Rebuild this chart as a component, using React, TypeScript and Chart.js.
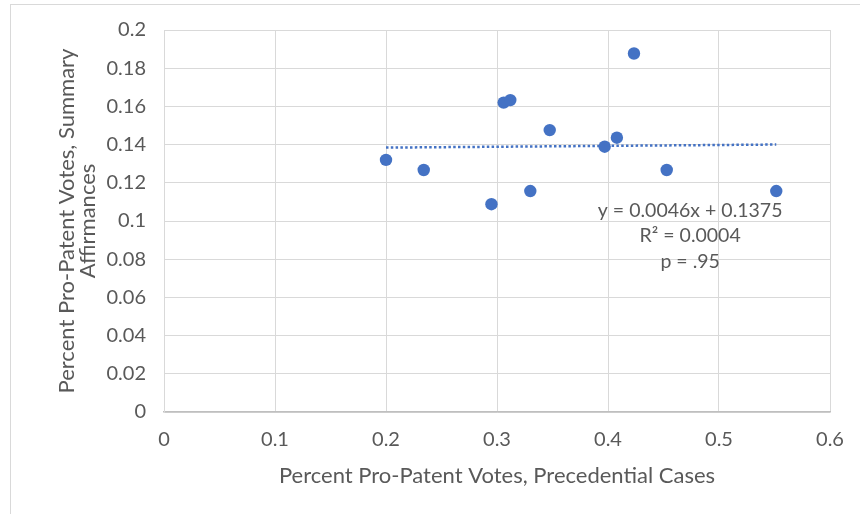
import React, { useEffect, useRef } from "react";
import { Chart, registerables } from "chart.js";

Chart.register(...registerables);

// ---- data ----
const precedentialShare = [0.2, 0.234, 0.295, 0.306, 0.312, 0.33, 0.3475, 0.397, 0.408, 0.4234, 0.4529, 0.5516];
const summaryShare = [0.132, 0.1267, 0.1088, 0.162, 0.1633, 0.1157, 0.1476, 0.1389, 0.1436, 0.1877, 0.1267, 0.1157];
const trendSlope = 0.0046;
const trendIntercept = 0.1375;
const trendLabelLines = ["y = 0.0046x + 0.1375", "R\u00b2 = 0.0004", "p = .95"];
const xAxisTitle = "Percent Pro-Patent Votes, Precedential Cases";
const yAxisTitleLines = ["Percent Pro-Patent Votes, Summary", "Affirmances"];
const xMin = 0, xMax = 0.6, xStep = 0.1;
const yMin = 0, yMax = 0.2, yStep = 0.02;

const FONT = "Lato, 'Liberation Sans', Arial, sans-serif";
const TEXT = "#595959";
const BLUE = "#4472C4";
const GRID = "#d9d9d9";

const trendLabelPlugin = {
  id: "trendLabel",
  afterDatasetsDraw(chart: any) {
    const { ctx, scales } = chart;
    const xs = scales.x, ys = scales.y;
    const cx = xs.getPixelForValue(0.474);
    const cy = ys.getPixelForValue(0.1055);
    ctx.save();
    ctx.font = `19.5px ${FONT}`;
    ctx.fillStyle = TEXT;
    ctx.textAlign = "center";
    ctx.textBaseline = "middle";
    trendLabelLines.forEach((line, i) => {
      ctx.fillText(line, cx, cy + i * 25.5);
    });
    ctx.restore();
  },
};

export default function App() {
  const ref = useRef<HTMLCanvasElement | null>(null);

  useEffect(() => {
    if (!ref.current) return;
    const points = precedentialShare.map((x, i) => ({ x, y: summaryShare[i] }));
    const lo = Math.min(...precedentialShare);
    const hi = Math.max(...precedentialShare);
    const trend = [lo, hi].map((x) => ({ x, y: trendSlope * x + trendIntercept }));

    const chart = new Chart(ref.current, {
      type: "scatter",
      data: {
        datasets: [
          {
            label: "Circuits",
            data: points,
            backgroundColor: BLUE,
            borderColor: BLUE,
            borderWidth: 0,
            pointRadius: 6.2,
            order: 1,
          },
          {
            type: "line",
            label: "Linear trend",
            data: trend,
            borderColor: BLUE,
            borderWidth: 2.5,
            borderDash: [2.5, 2.3],
            pointRadius: 0,
            fill: false,
            order: 0,
          } as any,
        ],
      },
      options: {
        responsive: false,
        animation: false,
        layout: { padding: { left: 0, right: 30, top: 30, bottom: 0 } },
        plugins: { legend: { display: false }, tooltip: { enabled: false } },
        scales: {
          x: {
            type: "linear",
            min: xMin,
            max: xMax,
            ticks: {
              stepSize: xStep,
              color: TEXT,
              font: { family: FONT, size: 20 },
              padding: 16,
              callback: (v: any) => String(Number(Number(v).toFixed(1))),
            },
            grid: { color: GRID, lineWidth: 1, drawTicks: false },
            border: { color: "#bfbfbf", width: 1.5 },
            title: {
              display: true,
              text: xAxisTitle,
              color: TEXT,
              font: { family: FONT, size: 22 },
              padding: { top: 0, bottom: 25 },
            },
            afterFit: (s: any) => {
              s.height = 514 - 412;
            },
          },
          y: {
            type: "linear",
            min: yMin,
            max: yMax,
            ticks: {
              stepSize: yStep,
              color: TEXT,
              font: { family: FONT, size: 20 },
              padding: 18,
              callback: (v: any) => String(Number(Number(v).toFixed(2))),
            },
            grid: { color: GRID, lineWidth: 1, drawTicks: false },
            border: { color: GRID, width: 1 },
            title: {
              display: true,
              text: yAxisTitleLines,
              color: TEXT,
              font: { family: FONT, size: 22, lineHeight: 0.955 },
              padding: { top: 56, bottom: 0 },
            },
            afterFit: (s: any) => {
              s.width = 164;
            },
          },
        },
      },
      plugins: [trendLabelPlugin],
    });
    return () => chart.destroy();
  }, []);

  return (
    <div style={{ position: "fixed", left: 0, top: 0, width: 860, height: 514, background: "#fff" }}>
      <div
        style={{
          position: "absolute",
          left: 10,
          top: 4,
          right: -2,
          bottom: -2,
          borderTop: "1.5px solid #d9d9d9",
          borderLeft: "1.5px solid #d9d9d9",
        }}
      />
      <canvas ref={ref} width={860} height={514} style={{ position: "absolute", left: 0, top: 0, display: "block" }} />
    </div>
  );
}
